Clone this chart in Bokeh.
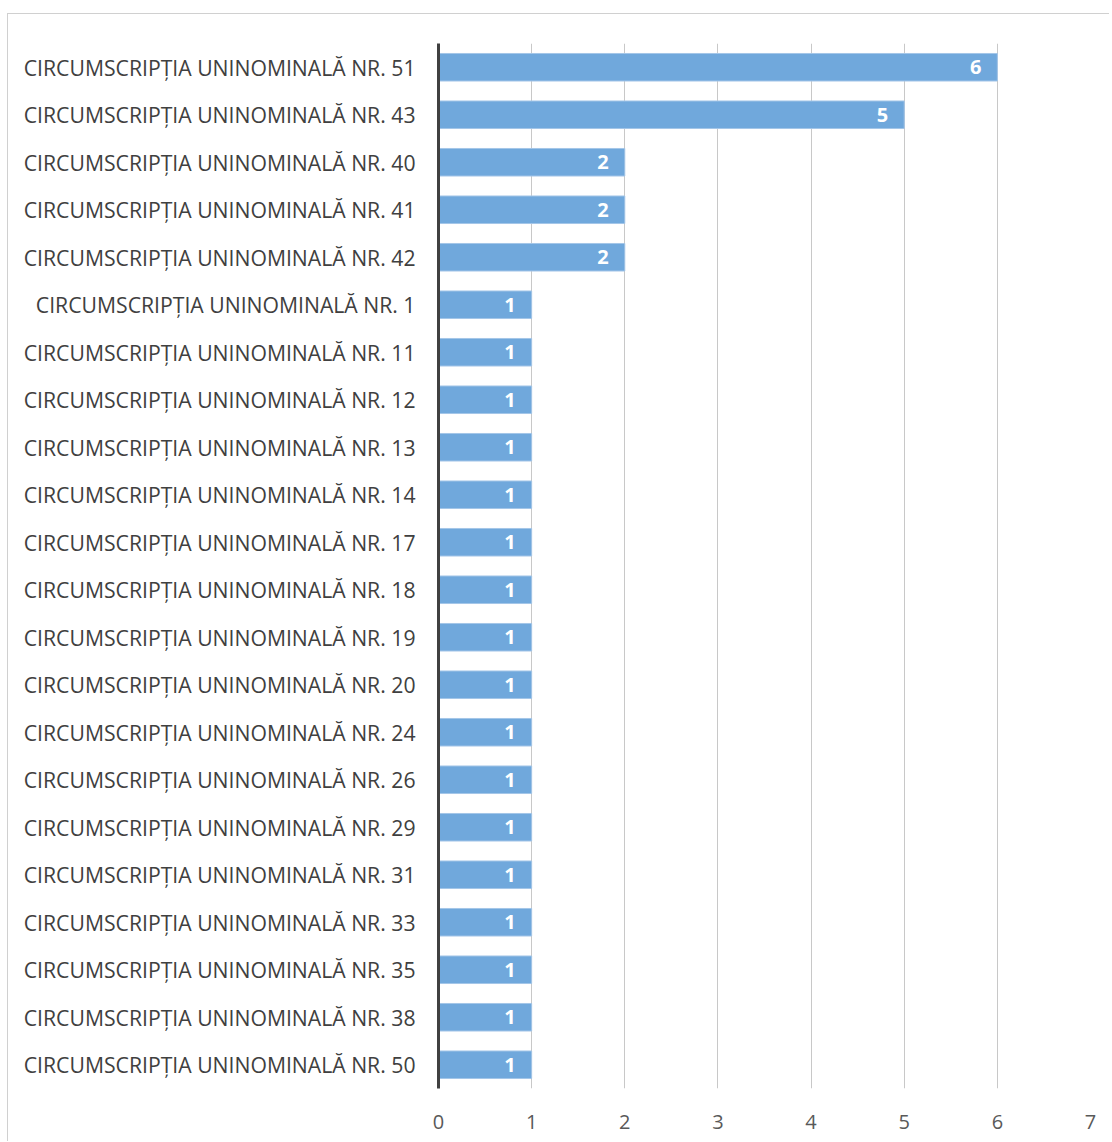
from bokeh.plotting import figure
from bokeh.models import ColumnDataSource, FixedTicker, LabelSet
from bokeh.core.properties import value
from bokeh.embed import file_html
from bokeh.resources import INLINE

categories = [
    "CIRCUMSCRIPȚIA UNINOMINALĂ NR. 51",
    "CIRCUMSCRIPȚIA UNINOMINALĂ NR. 43",
    "CIRCUMSCRIPȚIA UNINOMINALĂ NR. 40",
    "CIRCUMSCRIPȚIA UNINOMINALĂ NR. 41",
    "CIRCUMSCRIPȚIA UNINOMINALĂ NR. 42",
    "CIRCUMSCRIPȚIA UNINOMINALĂ NR. 1",
    "CIRCUMSCRIPȚIA UNINOMINALĂ NR. 11",
    "CIRCUMSCRIPȚIA UNINOMINALĂ NR. 12",
    "CIRCUMSCRIPȚIA UNINOMINALĂ NR. 13",
    "CIRCUMSCRIPȚIA UNINOMINALĂ NR. 14",
    "CIRCUMSCRIPȚIA UNINOMINALĂ NR. 17",
    "CIRCUMSCRIPȚIA UNINOMINALĂ NR. 18",
    "CIRCUMSCRIPȚIA UNINOMINALĂ NR. 19",
    "CIRCUMSCRIPȚIA UNINOMINALĂ NR. 20",
    "CIRCUMSCRIPȚIA UNINOMINALĂ NR. 24",
    "CIRCUMSCRIPȚIA UNINOMINALĂ NR. 26",
    "CIRCUMSCRIPȚIA UNINOMINALĂ NR. 29",
    "CIRCUMSCRIPȚIA UNINOMINALĂ NR. 31",
    "CIRCUMSCRIPȚIA UNINOMINALĂ NR. 33",
    "CIRCUMSCRIPȚIA UNINOMINALĂ NR. 35",
    "CIRCUMSCRIPȚIA UNINOMINALĂ NR. 38",
    "CIRCUMSCRIPȚIA UNINOMINALĂ NR. 50",
]
values = [6, 5, 2, 2, 2, 1, 1, 1, 1, 1, 1, 1, 1, 1, 1, 1, 1, 1, 1, 1, 1, 1]
x_ticks = [0, 1, 2, 3, 4, 5, 6, 7]

source = ColumnDataSource(data=dict(
    cat=categories,
    val=values,
    lbl=[str(v) for v in values],
))

p = figure(
    y_range=list(reversed(categories)),
    x_range=(0, 7),
    width=1102, height=1128,
    output_backend="svg", toolbar_location=None,
    min_border_left=430, min_border_right=20,
    min_border_top=29, min_border_bottom=54,
)
p.styles = {"border-left": "1px solid #d0d0d0", "border-top": "1px solid #d0d0d0",
            "margin-top": "13px", "margin-left": "7px"}
p.outline_line_color = None

p.hbar(y="cat", right="val", left=0, height=0.58, source=source,
       fill_color="#70a8dc", line_color="#a4c6e8", line_width=1)

labels = LabelSet(x="val", y="cat", text="lbl", source=source,
                  x_offset=-16, text_align="right", text_baseline="middle",
                  text_color="white", text_font=value("Open Sans"), text_font_style="bold",
                  text_font_size="20px")
p.add_layout(labels)

p.xaxis.ticker = FixedTicker(ticks=x_ticks)
p.xaxis.axis_line_color = None
p.xaxis.major_tick_line_color = None
p.xaxis.minor_tick_line_color = None
p.xaxis.major_label_standoff = 20
p.xaxis.major_label_text_font = "Open Sans"
p.xaxis.major_label_text_font_size = "20px"
p.xaxis.major_label_text_color = "#595959"

p.yaxis.axis_line_color = "#404040"
p.yaxis.axis_line_width = 3
p.yaxis.major_tick_line_color = None
p.yaxis.minor_tick_line_color = None
p.yaxis.major_label_standoff = 17
p.yaxis.major_label_text_font = "Open Sans"
p.yaxis.major_label_text_font_size = "21.2px"
p.yaxis.major_label_text_color = "#404040"

p.xgrid.grid_line_color = "#c8c8c8"
p.xgrid.grid_line_width = 1
p.ygrid.grid_line_color = None

open("out.html", "w").write(file_html(p, INLINE))
